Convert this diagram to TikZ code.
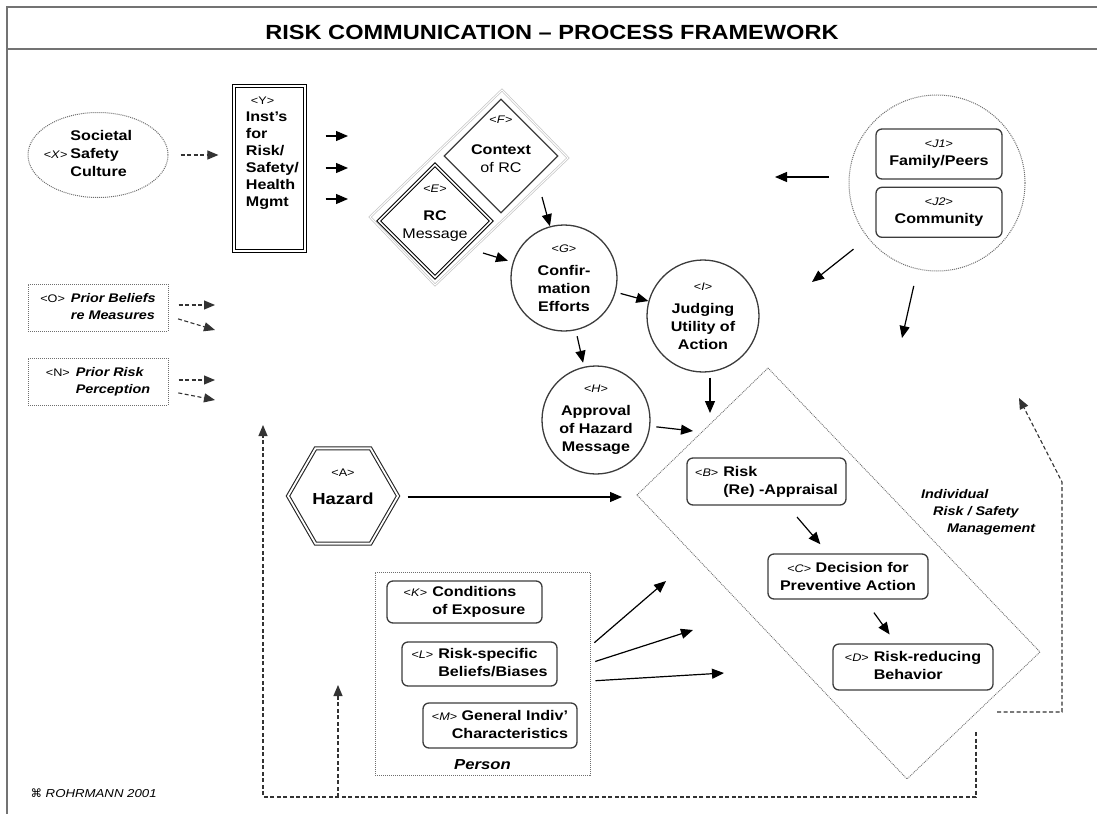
\documentclass[tikz,border=0pt]{standalone}
\usepackage{fontspec}
\setmainfont{Liberation Sans}[FakeStretch=1.15]
\newfontfamily\symfont{DejaVu Sans}
\usepackage{xcolor}
\definecolor{Charcoal}{HTML}{3c3c3c}
\definecolor{Ash}{HTML}{6e6e6e}
\definecolor{Mist}{HTML}{c4c4c4}
\colorlet{cLine}{Charcoal}
\colorlet{cDots}{Ash}
\colorlet{cPale}{Mist}
\usepackage{tikz}
\usetikzlibrary{arrows.meta, positioning, shapes.geometric}
\newcommand{\lab}[1]{{\fontsize{11}{11}\selectfont\mdseries\upshape<#1>}}
\newcommand{\labi}[1]{\lab{\textit{#1}}}
\tikzset{
	x = 1pt,
	y = -1pt,
	line width = 1.2pt,
	>={Triangle[length=12pt, width=10pt]},
	font = \fontsize{14}{18}\selectfont\bfseries,
	circ/.style={
		draw=cLine,
		circle,
		line width=1.3pt,
		inner sep=0pt,
		align=center
	},
	rbox/.style={
		draw=cLine,
		rounded corners=6pt,
		line width=1.3pt,
		inner sep=2pt
	},
	dotbox/.style={
		draw=cDots,
		densely dotted,
		line width=1pt
	},
	edge/.style={
		->,
		line width=1.2pt
	},
	dedge/.style={
		-{Triangle[length=11pt, width=9pt]},
		draw=black!80,
		dash pattern=on 4pt off 2.5pt,
		line width=1.1pt
	}
}

\begin{document}
\begin{tikzpicture}
	\useasboundingbox (0,0) rectangle (1097,814);
	% ---
	% frame and title
	% ---
	\draw[draw=black!55, line width=2pt] (1097,7) -- (7,7) -- (7,814);
	\draw[draw=black!55, line width=2pt] (7,49) -- (1097,49);
	\node[font=\fontsize{20.5}{21}\selectfont\bfseries] at (552,32) (rc-title) {RISK COMMUNICATION \textendash{} PROCESS FRAMEWORK};

	% ---
	% societal level
	% ---
	\node[dotbox, ellipse, minimum width=140pt, minimum height=85pt] at (98,155) (rc-x) {};
	\node[xshift=-10pt] at (rc-x) (rc-x-txt) {\begin{tabular}{@{}r@{\hspace{3pt}}l@{}} & Societal\\ \labi{X} & Safety\\ & Culture\end{tabular}};
	\node[draw=black, double, double distance=1.6pt, line width=1.2pt, minimum width=71pt, minimum height=165pt] at (269.5,168.5) (rc-y) {};
	\node[below right=8pt and 9pt of rc-y.north west, align=left, font=\fontsize{14}{17}\selectfont\bfseries] (rc-y-txt) {\hspace*{5pt}\lab{Y}\\Inst's\\for\\Risk/\\Safety/\\Health\\Mgmt};

	\draw[dedge, shorten <=12pt, shorten >=15pt] (rc-x.east) -- (rc-x.east -| rc-y.west);

	\coordinate (y-o1) at (348,136);
	\coordinate (y-o2) at (348,168);
	\coordinate (y-o3) at (348,199);
	\draw[edge, shorten <=20pt] (rc-y.east |- y-o1) -- (y-o1);
	\draw[edge, shorten <=20pt] (rc-y.east |- y-o2) -- (y-o2);
	\draw[edge, shorten <=20pt] (rc-y.east |- y-o3) -- (y-o3);

	% ---
	% prior beliefs
	% ---
	\node[dotbox, minimum width=140pt, minimum height=47pt, font=\fontsize{12.5}{17}\selectfont\bfseries\itshape] at (98,307.5) (rc-o) {\begin{tabular}{@{}l@{\hspace{6pt}}l@{}}\lab{O} & Prior Beliefs\\ & re Measures\end{tabular}};
	\node[dotbox, minimum width=140pt, minimum height=47pt, font=\fontsize{12.5}{17}\selectfont\bfseries\itshape] at (98,381.5) (rc-n) {\begin{tabular}{@{}l@{\hspace{6pt}}l@{}}\lab{N} & Prior Risk\\ & Perception\end{tabular}};

	\coordinate (o-1) at (215,305);
	\coordinate (o-2) at (215,330);
	\coordinate (n-1) at (215,380);
	\coordinate (n-2) at (215,400);
	\draw[dedge, shorten <=10pt] ([yshift=2.5pt]rc-o.east) -- (o-1);
	\draw[dedge, shorten <=10pt] ([yshift=-8.5pt]rc-o.east) -- (o-2);
	\draw[dedge, shorten <=10pt] ([yshift=1.5pt]rc-n.east) -- (n-1);
	\draw[dedge, shorten <=10pt] ([yshift=-9.5pt]rc-n.east) -- (n-2);

	% ---
	% message and context
	% ---
	\draw[draw=cPale, double, line width=.7pt, double distance=1pt] (502,90) -- (568,158) -- (435,285) -- (370,217) -- cycle;
	\node[diamond, draw=cLine, line width=1.3pt, minimum width=114pt, minimum height=114pt, inner sep=0pt] at (501,156) (rc-f) {};
	\node[align=center, yshift=11.5pt] at (rc-f) (rc-f-txt) {\labi{F}\\[13pt]Context\\{\mdseries of RC}};
	\node[diamond, draw=black, double, double distance=1.5pt, line width=1.1pt, minimum width=113pt, minimum height=113pt, inner sep=0pt] at (435,221) (rc-e) {};
	\node[align=center, yshift=8pt] at (rc-e) (rc-e-txt) {\labi{E}\\[10pt]RC\\{\mdseries Message}};

	\node[circ, minimum size=106pt] at (564,278) (rc-g) {\labi{G}\\[5pt]Confir-\\mation\\Efforts};
	\node[circ, minimum size=112pt] at (703,316) (rc-i) {\labi{I}\\[5pt]Judging\\Utility of\\Action};
	\node[circ, minimum size=108pt] at (596,420) (rc-h) {\labi{H}\\[5pt]Approval\\of Hazard\\Message};

	\coordinate (f-out) at (542,197);
	\coordinate (e-out) at (483,253);
	\draw[edge] (f-out) -- (rc-g);
	\draw[edge, shorten >=5pt] (e-out) -- (rc-g);
	\draw[edge, shorten <=5pt] (rc-g) -- (rc-i);
	\draw[edge, shorten <=6pt, shorten >=4pt] (rc-g) -- (rc-h);

	% ---
	% family and community
	% ---
	\node[circle, draw=cDots, densely dotted, line width=1pt, minimum size=176pt] at (937,183) (rc-j) {};
	\node[rbox, minimum width=126pt, minimum height=50pt, align=center] at (939,154) (rc-j1) {\labi{J1}\\Family/Peers};
	\node[rbox, minimum width=126pt, minimum height=50pt, align=center, below=7pt of rc-j1] (rc-j2) {\labi{J2}\\Community};

	\coordinate (j-o1) at (775,177);
	\coordinate (j-o2) at (812,282);
	\coordinate (j-o3) at (902,338);
	\draw[edge, shorten <=20pt] (rc-j.west |- j-o1) -- (j-o1);
	\draw[edge, shorten <=18pt] (rc-j) -- (j-o2);
	\draw[edge, shorten <=17pt] (rc-j) -- (j-o3);

	% ---
	% individual risk / safety management
	% ---
	\draw[draw=cDots, densely dotted, line width=.9pt] (768,368) -- (1040,652) -- (907,779) -- (637,495) -- cycle;
	\node[rbox, minimum width=159pt, minimum height=47pt] at (766.5,481.5) (rc-b) {\begin{tabular}{@{}l@{\hspace{5pt}}l@{}}\labi{B} & Risk\\ & (Re) -Appraisal\end{tabular}};
	\node[rbox, minimum width=160pt, minimum height=45pt, align=center] at (848,576.5) (rc-c) {\labi{C} Decision for\\Preventive Action};
	\node[rbox, minimum width=160pt, minimum height=46pt] at (913,667) (rc-d) {\begin{tabular}{@{}l@{\hspace{5pt}}l@{}}\labi{D} & Risk-reducing\\ & Behavior\end{tabular}};
	\node[anchor=north west, align=left, inner sep=0pt, font=\fontsize{12.5}{17}\selectfont\bfseries\itshape] at (921,489) (rc-ind) {Individual\\\hspace*{12pt}Risk / Safety\\\hspace*{26pt}Management};

	\draw[edge, shorten <=15pt, shorten >=12pt] (rc-b) -- (rc-c);
	\draw[edge, shorten <=16pt, shorten >=11pt] (rc-c) -- (rc-d);

	\coordinate (bd-i) at (710,413);
	\coordinate (bd-h) at (693,431);
	\draw[edge, shorten <=5pt] (rc-i.south -| bd-i) -- (bd-i);
	\draw[edge, shorten <=6pt] (rc-h) -- (bd-h);

	% ---
	% hazard
	% ---
	\node[regular polygon, regular polygon sides=6, draw=black!85, double, double distance=1.8pt, line width=1.1pt, minimum size=110pt, inner sep=0pt] at (343,496) (rc-a) {};
	\node[align=center, yshift=9pt, font=\fontsize{16}{18}\selectfont\bfseries] at (rc-a) (rc-a-txt) {\lab{A}\\[10pt]Hazard};

	\coordinate (bd-a) at (622,497);
	\draw[edge, shorten <=9pt] (rc-a.east |- bd-a) -- (bd-a);

	% ---
	% person
	% ---
	\node[dotbox, minimum width=215pt, minimum height=203pt] at (482.5,673.5) (rc-person) {};
	\node[above=2pt of rc-person.south, font=\fontsize{14.5}{18}\selectfont\bfseries\itshape] (rc-person-lbl) {Person};
	\node[rbox, minimum width=155pt, minimum height=42pt] at (464.5,602) (rc-k) {\begin{tabular}{@{}l@{\hspace{5pt}}l@{}}\labi{K} & Conditions\\ & of Exposure\end{tabular}};
	\node[rbox, minimum width=155pt, minimum height=44pt] at (479.5,664) (rc-l) {\begin{tabular}{@{}l@{\hspace{5pt}}l@{}}\labi{L} & Risk-specific\\ & Beliefs/Biases\end{tabular}};
	\node[rbox, minimum width=154pt, minimum height=45pt] at (500,725.5) (rc-m) {\begin{tabular}{@{}r@{}}\labi{M} General Indiv'\\Characteristics\end{tabular}};

	\coordinate (p-1) at (666,581);
	\coordinate (p-2) at (693,630);
	\coordinate (p-3) at (724,673);
	\draw[edge, shorten <=5pt] ([yshift=27.5pt]rc-person.east) -- (p-1);
	\draw[edge, shorten <=5pt] ([yshift=10.5pt]rc-person.east) -- (p-2);
	\draw[edge, shorten <=5pt] ([yshift=-7.5pt]rc-person.east) -- (p-3);

	% ---
	% feedback loops
	% ---
	\coordinate (lp-a) at (997,712);
	\coordinate (lp-b) at (1019,398);
	\coordinate (lp-c) at (1062,482);
	\draw[dedge] (lp-a) -- (lp-a -| lp-c) -- (lp-c) -- (lp-b);

	\coordinate (lp-d) at (976,732);
	\coordinate (lp-e) at (263,425);
	\coordinate (lp-f) at (338,685);
	\coordinate (lp-g) at (263,797);
	\draw[dedge] (lp-d) |- (lp-g) -- (lp-e);
	\draw[dedge] (lp-f |- lp-g) -- (lp-f);

	\node[anchor=west, font=\fontsize{11.5}{12}\selectfont\mdseries\itshape] at (27,793) (rc-copy) {{\symfont\upshape ⌘} ROHRMANN 2001};
\end{tikzpicture}
\end{document}
